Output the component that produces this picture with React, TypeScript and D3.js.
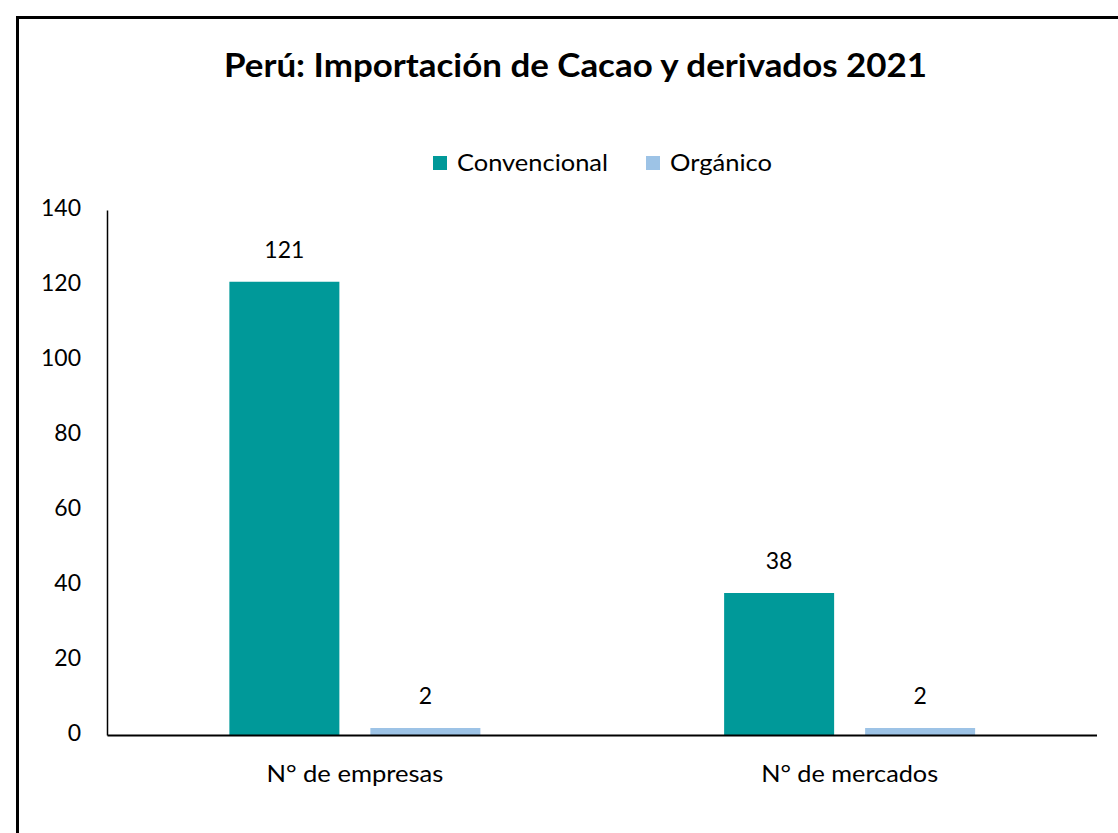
import React from "react";
import * as d3 from "d3";

const categories = ["N° de empresas", "N° de mercados"];
const seriesNames = ["Convencional", "Orgánico"];
const convencional = [121, 38];
const organico = [2, 2];
const yTicks = [0, 20, 40, 60, 80, 100, 120, 140];
const colors = ["#009999", "#9DC3E6"];
const title = "Perú: Importación de Cacao y derivados 2021";

const W = 1118;
const H = 833;
const FONT = "Lato, 'Open Sans', sans-serif";

export default function App() {
  const left = 107.5;
  const right = 1097;
  const top = 210.5;
  const bottom = 735.5;

  const y = d3.scaleLinear().domain([0, 140]).range([bottom, top]);
  const x0 = d3.scaleBand<string>().domain(categories).range([left, right]).paddingInner(0).paddingOuter(0);
  const groupW = 251;
  const x1 = d3
    .scaleBand<string>()
    .domain(seriesNames)
    .range([0, groupW])
    .paddingInner(31 / 141)
    .paddingOuter(0);
  const groupOffset = (x0.bandwidth() - groupW) / 2;
  const values = [convencional, organico];
  const labelLens = [177, 177];
  const legendX = [433, 646];
  const legendLens = [151, 102];

  return (
    <svg width={W} height={H} style={{ position: "absolute", left: 0, top: 0, background: "#fff" }}>
      <rect x={17.5} y={17.5} width={W + 20} height={H + 20} fill="#fff" stroke="#000" strokeWidth={3} />
      <text
        x={575.5}
        y={77}
        textAnchor="middle"
        fontFamily={FONT}
        fontWeight={700}
        fontSize={32}
        fill="#000"
        textLength={703}
        lengthAdjust="spacingAndGlyphs"
      >
        {title}
      </text>
      {/* legend */}
      <g fontFamily={FONT} fontSize={23} fill="#000">
        {seriesNames.map((s, i) => (
          <g key={s}>
            <rect x={legendX[i]} y={156} width={14} height={14} fill={colors[i]} />
            <text x={legendX[i] + 24} y={171} textLength={legendLens[i]} lengthAdjust="spacingAndGlyphs">
              {s}
            </text>
          </g>
        ))}
      </g>
      {/* bars */}
      {categories.map((c, ci) => (
        <g key={c}>
          {seriesNames.map((s, si) => {
            const v = values[si][ci];
            const bx = (x0(c) as number) + groupOffset + (x1(s) as number);
            const bw = x1.bandwidth();
            return (
              <g key={s}>
                <rect x={bx} y={y(v)} width={bw} height={y(0) - y(v)} fill={colors[si]} />
                <text
                  x={bx + bw / 2}
                  y={y(v) - 30}
                  textAnchor="middle"
                  dominantBaseline="middle"
                  fontFamily={FONT}
                  fontSize={23}
                  fill="#000"
                >
                  {v}
                </text>
              </g>
            );
          })}
          <text
            x={(x0(c) as number) + x0.bandwidth() / 2}
            y={782}
            textAnchor="middle"
            fontFamily={FONT}
            fontSize={23}
            fill="#000"
            textLength={labelLens[ci]}
            lengthAdjust="spacingAndGlyphs"
          >
            {c}
          </text>
        </g>
      ))}
      {/* axes */}
      <line x1={left} x2={left} y1={top} y2={bottom} stroke="#000" strokeWidth={1.5} />
      <line x1={left} x2={right} y1={bottom} y2={bottom} stroke="#000" strokeWidth={2} />
      {yTicks.map((t) => (
        <text key={t} x={81} y={y(t)} textAnchor="end" dominantBaseline="middle" fontFamily={FONT} fontSize={23} fill="#000">
          {t}
        </text>
      ))}
    </svg>
  );
}
